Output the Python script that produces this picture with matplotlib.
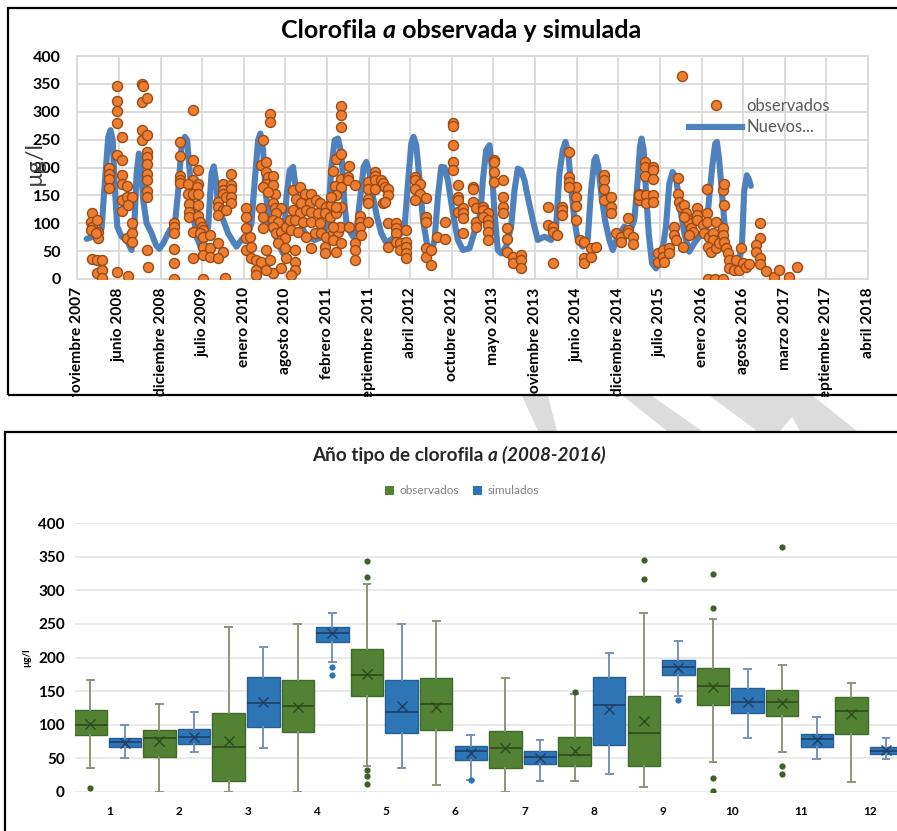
import numpy as np
import matplotlib.pyplot as plt
from matplotlib.lines import Line2D
from matplotlib.patches import Patch, Polygon, Rectangle

plt.rcParams['font.family'] = ['Lato', 'DejaVu Sans']

# ---- top chart: daily series, x in days after 2007-11-14 ----
START = np.datetime64('2007-11-14')
TICK_STEP = 200
TICK_LABELS = ['noviembre 2007', 'junio 2008', 'diciembre 2008', 'julio 2009',
               'enero 2010', 'agosto 2010', 'febrero 2011', 'septiembre 2011',
               'abril 2012', 'octubre 2012', 'mayo 2013', 'noviembre 2013',
               'junio 2014', 'diciembre 2014', 'julio 2015', 'enero 2016',
               'agosto 2016', 'marzo 2017', 'septiembre 2017', 'abril 2018']

SIM_POINTS = [
    (45, 72), (77, 76), (117, 91), (133, 177), (149, 255), (160, 267), (170, 249),
    (181, 159), (192, 94), (213, 76), (237, 70), (261, 52), (274, 94), (285, 189),
    (296, 225), (306, 201), (317, 141), (333, 100), (357, 82), (378, 61), (394, 54),
    (413, 64), (445, 88), (464, 79), (485, 159), (501, 237), (517, 255), (528, 249),
    (541, 189), (557, 118), (573, 76), (592, 58), (613, 70), (629, 94), (645, 189),
    (656, 202), (666, 177), (677, 130), (701, 106), (725, 82), (749, 67), (765, 58),
    (789, 70), (821, 82), (837, 100), (853, 177), (869, 249), (880, 261), (893, 231),
    (904, 159), (925, 94), (949, 82), (973, 58), (989, 46), (1005, 147), (1021, 195),
    (1037, 201), (1045, 177), (1061, 130), (1085, 88), (1109, 76), (1141, 70),
    (1181, 76), (1205, 106), (1221, 201), (1237, 249), (1253, 252), (1269, 225),
    (1285, 130), (1296, 94), (1325, 76), (1344, 94), (1360, 147), (1376, 201),
    (1389, 210), (1405, 189), (1421, 147), (1440, 112), (1461, 82), (1485, 65),
    (1517, 73), (1549, 79), (1573, 94), (1589, 171), (1605, 243), (1616, 255),
    (1629, 240), (1645, 177), (1661, 106), (1680, 64), (1701, 46), (1717, 70),
    (1733, 147), (1749, 201), (1765, 200), (1781, 177), (1805, 118), (1829, 70),
    (1853, 52), (1885, 55), (1909, 85), (1925, 90), (1940, 130), (1949, 177),
    (1965, 231), (1981, 240), (1992, 201), (2005, 118), (2021, 52), (2037, 46),
    (2061, 58), (2085, 94), (2101, 159), (2117, 198), (2133, 195), (2149, 177),
    (2165, 147), (2189, 106), (2213, 70), (2245, 76), (2277, 70), (2301, 94),
    (2317, 189), (2333, 231), (2346, 246), (2360, 225), (2373, 165), (2389, 106),
    (2405, 70), (2429, 58), (2453, 70), (2469, 159), (2485, 213), (2493, 219),
    (2504, 201), (2520, 147), (2536, 106), (2557, 70), (2573, 52), (2597, 76),
    (2629, 94), (2653, 82), (2677, 106), (2693, 177), (2704, 237), (2712, 252),
    (2722, 231), (2733, 159), (2746, 82), (2762, 28), (2781, 19), (2805, 34),
    (2829, 94), (2845, 171), (2861, 192), (2877, 183), (2896, 130), (2917, 82),
    (2941, 49), (2965, 64), (2989, 76), (3021, 82), (3037, 147), (3053, 207),
    (3066, 243), (3074, 246), (3085, 213), (3101, 141), (3120, 58), (3141, 37),
    (3173, 22), (3194, 58), (3205, 159), (3218, 186), (3229, 177), (3237, 167),
]

OBS_POINTS = [
    (69, 119), (64, 103), (69, 94), (64, 87), (93, 106), (101, 85), (101, 73), (90, 82),
    (69, 36), (93, 34), (117, 34), (93, 10), (117, 16), (117, 1),
    (152, 199), (152, 189), (152, 180), (152, 164),
    (192, 346), (192, 319), (192, 301), (192, 280), (213, 255), (192, 222), (213, 214),
    (213, 187), (213, 170), (237, 167), (213, 141), (213, 122), (237, 147), (261, 147),
    (245, 133), (261, 101), (237, 73), (261, 82), (261, 67), (192, 13), (242, 6),
    (309, 350), (314, 347), (309, 318), (336, 324), (309, 267), (309, 249), (336, 259),
    (336, 228), (336, 219), (336, 207), (336, 189), (336, 177), (336, 158), (336, 147),
    (336, 52), (341, 22),
    (493, 246), (493, 220), (493, 184), (493, 177), (493, 173), (466, 101), (466, 93),
    (466, 82), (466, 53), (466, 28), (466, 0),
    (557, 304), (557, 213), (581, 195), (557, 177), (581, 171), (533, 171), (573, 165),
    (533, 153), (557, 152), (581, 153), (536, 134), (581, 133), (536, 121), (536, 112),
    (581, 113), (589, 103), (597, 94), (605, 88), (557, 85), (589, 83), (605, 76),
    (605, 58), (605, 43), (557, 37), (605, 0),
    (637, 79), (637, 55), (637, 40), (677, 64), (701, 49), (677, 37), (709, 1),
    (741, 189), (701, 171), (741, 168), (701, 159), (741, 162), (701, 153), (677, 139),
    (717, 147), (741, 147), (741, 136), (677, 130), (701, 124), (677, 115), (717, 124),
    (810, 128), (810, 112), (810, 92), (810, 73), (829, 76), (810, 52), (834, 58),
    (834, 37), (861, 34), (861, 16), (861, 7), (885, 31), (909, 52), (925, 34),
    (941, 10), (909, 16),
    (925, 296), (925, 282), (893, 249), (885, 205), (909, 210), (909, 192), (917, 183),
    (941, 184), (909, 171), (941, 168), (893, 165), (949, 153), (917, 156), (941, 136),
    (949, 127), (981, 127), (957, 118), (941, 106), (965, 103), (885, 127), (893, 112),
    (893, 91), (941, 94), (957, 82), (981, 85), (981, 70), (997, 73), (1005, 94),
    (965, 64), (997, 55), (1005, 37), (981, 19), (1021, 106),
    (1037, 159), (1069, 165), (1093, 153), (1122, 152), (1053, 144), (1077, 136),
    (1117, 136), (1149, 141), (1165, 136), (1197, 130), (1221, 133), (1037, 124),
    (1069, 118), (1101, 124), (1125, 121), (1157, 118), (1189, 118), (1213, 112),
    (1245, 118), (1045, 106), (1085, 103), (1125, 103), (1165, 100), (1029, 88),
    (1061, 85), (1101, 76), (1141, 82), (1173, 82), (1197, 76), (1229, 82), (1253, 85),
    (1189, 58), (1229, 70), (1189, 46), (1125, 55), (1045, 52), (1045, 31), (1045, 16),
    (1029, 7), (1261, 94), (1229, 94), (1269, 64), (1245, 49),
    (1269, 310), (1269, 294), (1269, 272), (1245, 216), (1269, 225), (1229, 193),
    (1269, 180), (1237, 167), (1269, 165), (1245, 150), (1221, 147), (1269, 130),
    (1245, 130),
    (1306, 202), (1301, 183), (1301, 177), (1333, 168), (1306, 94), (1333, 65),
    (1333, 52), (1333, 34), (1360, 113), (1360, 103), (1360, 94), (1365, 79),
    (1397, 174), (1397, 162), (1397, 144), (1397, 136), (1397, 103), (1429, 192),
    (1429, 184), (1429, 177), (1429, 162), (1461, 177), (1469, 173), (1477, 165),
    (1493, 162), (1493, 150), (1469, 136), (1477, 139), (1493, 100), (1493, 58),
    (1530, 101), (1530, 91), (1530, 82), (1530, 67), (1549, 64), (1549, 52), (1578, 88),
    (1578, 67), (1578, 58), (1578, 46), (1578, 37), (1621, 183), (1621, 177),
    (1645, 171), (1621, 162), (1645, 153), (1621, 141), (1674, 146), (1674, 112),
    (1674, 103), (1674, 55), (1674, 40), (1701, 52), (1701, 25), (1728, 76),
    (1765, 103), (1765, 72), (1805, 279), (1805, 274), (1805, 241), (1805, 210),
    (1805, 195), (1829, 168), (1829, 147), (1829, 141), (1829, 121), (1853, 127),
    (1853, 118), (1853, 109), (1853, 83), (1901, 165), (1901, 161), (1901, 139),
    (1917, 127), (1917, 103), (1917, 94),
    (1949, 130), (1949, 124), (1973, 118), (1949, 112), (1973, 106), (1973, 97),
    (1973, 85), (1973, 70), (2005, 214), (2005, 210), (2005, 192), (2005, 174),
    (2045, 177), (2045, 147), (2045, 130), (2045, 119), (2066, 91), (2066, 71),
    (2066, 49), (2093, 40), (2093, 28), (2130, 43), (2130, 34), (2130, 19),
    (2264, 130), (2264, 97), (2285, 94), (2285, 85), (2306, 79), (2285, 29),
    (2328, 130), (2328, 124), (2328, 115), (2365, 228), (2365, 183), (2365, 174),
    (2397, 165), (2365, 165), (2397, 147), (2397, 131), (2397, 106), (2418, 70),
    (2437, 67), (2437, 37), (2437, 28), (2469, 55), (2469, 40), (2493, 58),
    (2530, 186), (2530, 177), (2530, 162), (2530, 141), (2565, 147), (2565, 130),
    (2565, 118),
    (2589, 82), (2613, 76), (2613, 67), (2645, 109), (2645, 88), (2645, 82), (2669, 76),
    (2669, 63), (2698, 153), (2698, 141), (2730, 210), (2730, 201), (2730, 184),
    (2765, 201), (2765, 196), (2765, 179), (2701, 150), (2733, 150), (2765, 150),
    (2733, 136), (2765, 139), (2789, 46), (2789, 31), (2813, 52), (2813, 40),
    (2821, 31), (2845, 55), (2845, 46), (2869, 94), (2869, 79), (2877, 70),
    (2885, 182), (2885, 152), (2893, 139), (2909, 58), (2901, 130), (2917, 133),
    (2925, 118), (2933, 106), (2941, 100), (2949, 91), (2957, 85), (2941, 79),
    (2917, 112), (2976, 127), (2976, 115), (2976, 106), (3005, 97), (3013, 82),
    (3026, 161), (3026, 118), (3026, 103), (3037, 76), (3069, 103), (3053, 82),
    (3056, 70), (3029, 58), (3045, 49), (3069, 55), (3085, 64), (3101, 91),
    (3101, 79), (3109, 67), (3117, 55), (3125, 46), (3133, 34), (3109, 133),
    (3101, 159), (3109, 170), (3165, 34), (3189, 55), (3133, 19), (3157, 16),
    (3181, 16), (3197, 28), (3213, 22), (3029, 0), (3066, 0), (3101, 0), (2906, 365),
    (3229, 27), (3282, 101), (3282, 73), (3261, 61), (3261, 49), (3282, 37),
    (3282, 27), (3309, 14), (3346, 4), (3373, 17), (3421, 3), (3458, 22),
]

# ---- bottom chart: box statistics per month ----
MONTHS = list(range(1, 13))
OBS_WHISHI = [166, 131, 246, 250, 310, 254, 169, 146, 267, 258, 189, 162]
OBS_Q3 = [122, 92, 118, 166, 212, 169, 91, 82, 142, 185, 151, 141]
OBS_MED = [99, 80, 66, 128, 174, 131, 65, 55, 87, 158, 133, 121]
OBS_MEAN = [101, 75, 76, 126, 175, 126, 65, 61, 106, 156, 132, 116]
OBS_Q1 = [84, 52, 16, 89, 142, 92, 35, 39, 39, 129, 113, 86]
OBS_WHISLO = [35, 0, 0, 0, 39, 10, 0, 16, 7, 45, 59, 14]
OBS_FLIERS = [[5], [], [], [], [344, 320, 33, 23, 12], [], [], [149], [346, 317],
              [324, 274, 21, 1], [365, 38, 26], []]

SIM_WHISHI = [100, 119, 215, 267, 250, 85, 77, 206, 225, 183, 112, 80]
SIM_Q3 = [80, 93, 171, 246, 167, 68, 61, 171, 196, 154, 86, 66]
SIM_MED = [74, 82, 132, 236, 119, 60, 52, 129, 186, 134, 78, 61]
SIM_MEAN = [73, 82, 134, 236, 128, 57, 50, 123, 185, 134, 77, 62]
SIM_Q1 = [66, 71, 96, 223, 88, 47, 41, 69, 174, 118, 66, 56]
SIM_WHISLO = [50, 59, 65, 194, 35, 18, 16, 26, 143, 80, 48, 48]
SIM_FLIERS = [[], [], [], [186, 174], [], [17], [], [], [136], [], [], []]

W, H = 897, 831


def fx(px):
    return px / W


def fy(py):
    return 1 - py / H


def to_dates(days):
    return START + np.asarray(days, dtype='timedelta64[D]')


def rich_text(fig, parts, cx_px, base_px, size, color):
    """Bold text made of pieces, some in italic, centred at cx_px."""
    r = fig.canvas.get_renderer()
    texts = [fig.text(0, fy(base_px), s, fontsize=size, fontweight='bold',
                      fontstyle=st, color=color, va='baseline')
             for s, st in parts]
    widths = [t.get_window_extent(r).width for t in texts]
    x = cx_px - sum(widths) / 2
    for t, w in zip(texts, widths):
        t.set_x(fx(x))
        x += w


def box_stats(q1, med, q3, mean, lo, hi, fliers):
    return [dict(q1=a, med=b, q3=c, mean=d, whislo=e, whishi=f, fliers=g)
            for a, b, c, d, e, f, g in zip(q1, med, q3, mean, lo, hi, fliers)]


fig = plt.figure(figsize=(W / 100, H / 100), dpi=100)

# ---------------- top chart ----------------
ax1 = fig.add_axes([fx(77.3), fy(279), fx(868) - fx(77.3), fy(56) - fy(279)])
sim_d, sim_v = zip(*SIM_POINTS)
obs_d, obs_v = zip(*OBS_POINTS)
ax1.plot(to_dates(sim_d), sim_v, color='#4F81BD', lw=4.4, solid_joinstyle='round',
         solid_capstyle='round', zorder=2)
ax1.scatter(to_dates(obs_d), obs_v, s=52, facecolor='#ED7D31', edgecolor='#9C4A12',
            linewidths=1.0, zorder=3)

ticks = to_dates(np.arange(len(TICK_LABELS)) * TICK_STEP)
ax1.set_xticks(ticks)
ax1.set_xticklabels(TICK_LABELS, rotation=90, fontsize=11.2, fontweight='bold')
ax1.set_xlim(ticks[0], ticks[-1])
ax1.set_ylim(0, 400)
ax1.set_yticks(range(0, 401, 50))
ax1.set_yticklabels([str(v) for v in range(0, 401, 50)], fontsize=11.5,
                    fontweight='bold')
ax1.tick_params(axis='x', length=0, pad=6)
ax1.tick_params(axis='y', length=0, pad=12)
ax1.grid(True, color='#D9D9D9', lw=1.3)
ax1.set_axisbelow(True)
for sp in ax1.spines.values():
    sp.set_color('#D9D9D9')
    sp.set_linewidth(1.3)

fig.text(fx(34), fy(163), 'µg/l', rotation=90, fontsize=17, ha='center',
         va='center', color='#404040')
rich_text(fig, [('Clorofila ', 'normal'), ('a', 'italic'),
                (' observada y simulada', 'normal')], 461, 38, 18, 'black')

leg_handles = [Line2D([], [], ls='none', marker='o', ms=7.2, mfc='#ED7D31',
                      mec='#9C4A12', mew=1.0),
               Line2D([], [], color='#4F81BD', lw=4.4)]
fig.legend(leg_handles, ['observados', 'Nuevos...'], loc='upper left',
           bbox_to_anchor=(fx(689), fy(98)), frameon=False, fontsize=12,
           labelcolor='#595959', handlelength=3.2, handletextpad=0.25,
           labelspacing=0.32, borderpad=0, borderaxespad=0)

# ---------------- bottom chart ----------------
ax2 = fig.add_axes([fx(74.7), fy(791.7), fx(905) - fx(74.7), fy(523.3) - fy(791.7)])
months = np.array(MONTHS)
obs_stats = box_stats(OBS_Q1, OBS_MED, OBS_Q3, OBS_MEAN, OBS_WHISLO, OBS_WHISHI,
                      OBS_FLIERS)
sim_stats = box_stats(SIM_Q1, SIM_MED, SIM_Q3, SIM_MEAN, SIM_WHISLO, SIM_WHISHI,
                      SIM_FLIERS)

styles = [
    (obs_stats, months - 0.275, '#548235', '#3F6A27', '#2F4A1E', '#8C9579', '#3F6128'),
    (sim_stats, months + 0.225, '#2E75B6', '#245F96', '#1F3F66', '#7A93B3', '#2E75B6'),
]
for stats, pos, fill, edge, dark, whisk, flier in styles:
    ax2.bxp(stats, positions=pos, widths=0.47, patch_artist=True, showmeans=True,
            capwidths=0.1, manage_ticks=False,
            boxprops=dict(facecolor=fill, edgecolor=edge, lw=1),
            medianprops=dict(color=dark, lw=1.2),
            meanprops=dict(marker='x', markeredgecolor=dark, markersize=7, mew=1.0),
            whiskerprops=dict(color=whisk, lw=1.4),
            capprops=dict(color=whisk, lw=1.4),
            flierprops=dict(marker='o', markerfacecolor=flier, markeredgecolor='none',
                            markersize=4.5))

ax2.set_xlim(0.5, 12.5)
ax2.set_ylim(0, 400)
ax2.set_xticks(MONTHS)
ax2.set_xticklabels([str(m) for m in MONTHS], fontsize=8.5, fontweight='bold')
ax2.set_yticks(range(0, 401, 50))
ax2.set_yticklabels([str(v) for v in range(0, 401, 50)], fontsize=11,
                    fontweight='bold')
ax2.tick_params(axis='x', length=0, pad=10)
ax2.tick_params(axis='y', length=0, pad=7)
ax2.grid(True, axis='y', color='#E6E6E6', lw=1.2)
ax2.set_axisbelow(True)
for sp in ax2.spines.values():
    sp.set_visible(False)

fig.text(fx(27), fy(658), 'µg/l', rotation=90, fontsize=7, fontweight='bold',
         ha='center', va='center')
rich_text(fig, [('Año tipo de clorofila ', 'normal'), ('a (2008-2016)', 'italic')],
          459, 460.5, 13.6, '#262626')
fig.legend([Patch(fc='#548235'), Patch(fc='#2E75B6')], ['observados', 'simulados'],
           loc='center', bbox_to_anchor=(fx(462), fy(491)), ncol=2, frameon=False,
           fontsize=8.5, labelcolor='#7F7F7F', handlelength=0.75, handleheight=0.75,
           handletextpad=0.5, columnspacing=1.2)

# ---------------- panel frames, gap and watermark ----------------
fig.add_artist(Rectangle((0, fy(431)), 1, fy(396.5) - fy(431), transform=fig.transFigure,
                         facecolor='white', edgecolor='none', zorder=15))
for pts in [[(522, 396), (548, 396), (557, 431), (538, 431)],
            [(623, 396), (652, 396), (702, 431), (667, 431)],
            [(710, 396), (813, 396), (857, 431), (800, 431), (792, 417),
             (780, 431), (757, 431)]]:
    fig.add_artist(Polygon([(fx(a), fy(b)) for a, b in pts], closed=True,
                           transform=fig.transFigure, facecolor='#DCDCDC',
                           edgecolor='none', zorder=16))
fig.add_artist(Rectangle((fx(8), fy(395.5)), fx(905) - fx(8), fy(8) - fy(395.5),
                         transform=fig.transFigure, fill=False, edgecolor='black',
                         lw=1.6, zorder=20))
fig.add_artist(Rectangle((fx(5), fy(840)), fx(905) - fx(5), fy(431.7) - fy(840),
                         transform=fig.transFigure, fill=False, edgecolor='black',
                         lw=1.6, zorder=20))

fig.savefig('out.png', dpi=100)
